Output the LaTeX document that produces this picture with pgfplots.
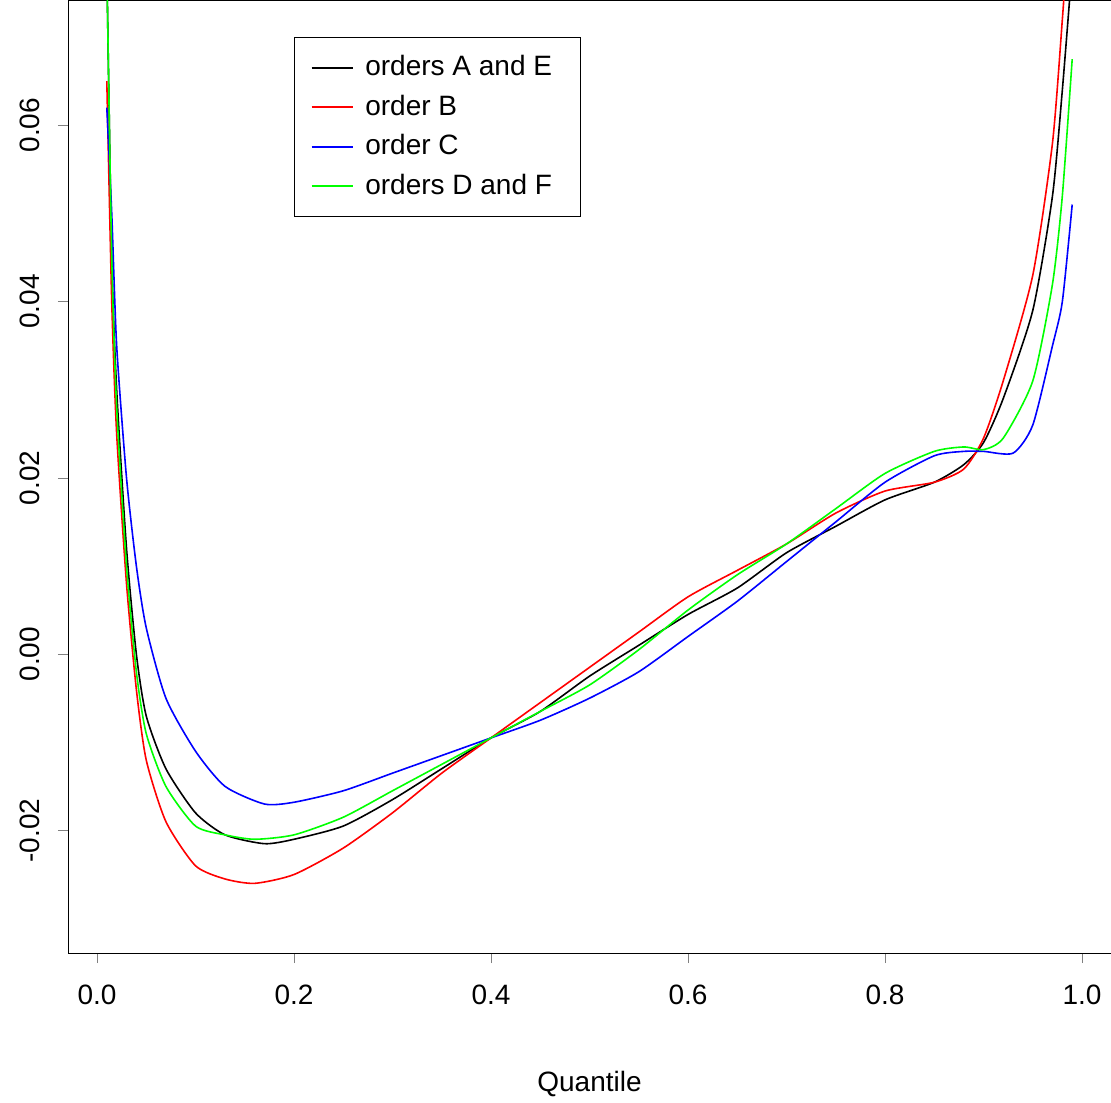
\documentclass[border=0pt]{standalone}
\usepackage{pgfplots}
\pgfplotsset{compat=1.18}
\usepackage{fontspec}
\setmainfont{Liberation Sans}
\begin{document}
\fontsize{14}{17}\selectfont
\begin{tikzpicture}
\begin{axis}[scale only axis, width=521.5pt, height=476.5pt, at={(0,0)}, anchor=south west,
xmin=-0.0294, xmax=1.0294, ymin=-0.0339, ymax=0.0742,
xtick={0,0.2,0.4,0.6,0.8,1}, ytick={-0.02,0,0.02,0.04,0.06},
xticklabel style={/pgf/number format/.cd,fixed,fixed zerofill,precision=1},
yticklabel style={rotate=90,anchor=south,/pgf/number format/.cd,fixed,fixed zerofill,precision=2},
/pgf/number format/assume math mode=true,
tick align=outside, tick pos=left, major tick length=5pt,
xticklabel shift=6pt, yticklabel shift=4pt,
scaled y ticks=false, clip=true,
xlabel={Quantile}, xlabel style={yshift=-24pt},
legend style={at={(0.217,0.961)}, anchor=north west, draw=black, inner xsep=8pt, inner ysep=7pt, row sep=3.5pt, font=\fontsize{14}{17}\selectfont,
  nodes={inner xsep=6pt}},
legend cell align=left, legend image post style={xscale=1.2},
every axis plot/.append style={line width=0.8pt, smooth, tension=0.4}]
\addplot[black] coordinates {(0.01,0.078)(0.015,0.045)(0.02,0.03)(0.03,0.012)(0.04,0.0)(0.05,-0.007)(0.07,-0.013)(0.1,-0.018)(0.13,-0.0205)(0.17,-0.0215)(0.2,-0.021)(0.25,-0.0195)(0.3,-0.0165)(0.35,-0.013)(0.4,-0.0095)(0.45,-0.0065)(0.5,-0.0025)(0.55,0.001)(0.6,0.0045)(0.65,0.0075)(0.7,0.0115)(0.75,0.0145)(0.8,0.0175)(0.85,0.0195)(0.88,0.0215)(0.9,0.024)(0.92,0.029)(0.95,0.039)(0.97,0.052)(0.98,0.064)(0.99,0.078)};
\addlegendentry{orders A and E}
\addplot[red] coordinates {(0.01,0.065)(0.015,0.04)(0.02,0.025)(0.03,0.008)(0.04,-0.004)(0.05,-0.012)(0.07,-0.019)(0.1,-0.024)(0.13,-0.0255)(0.16,-0.026)(0.2,-0.025)(0.25,-0.022)(0.3,-0.018)(0.35,-0.0135)(0.4,-0.0095)(0.45,-0.0055)(0.5,-0.0015)(0.55,0.0025)(0.6,0.0065)(0.65,0.0095)(0.7,0.0125)(0.75,0.016)(0.8,0.0185)(0.85,0.0195)(0.88,0.021)(0.9,0.0245)(0.92,0.031)(0.95,0.043)(0.97,0.058)(0.98,0.072)(0.985,0.08)};
\addlegendentry{order B}
\addplot[blue] coordinates {(0.01,0.062)(0.015,0.05)(0.02,0.035)(0.03,0.02)(0.04,0.01)(0.05,0.003)(0.07,-0.005)(0.1,-0.011)(0.13,-0.015)(0.17,-0.017)(0.2,-0.0168)(0.25,-0.0155)(0.3,-0.0135)(0.35,-0.0115)(0.4,-0.0095)(0.45,-0.0075)(0.5,-0.005)(0.55,-0.002)(0.6,0.002)(0.65,0.006)(0.7,0.0105)(0.75,0.015)(0.8,0.0195)(0.85,0.0225)(0.88,0.023)(0.9,0.023)(0.93,0.0228)(0.95,0.026)(0.97,0.035)(0.98,0.04)(0.99,0.051)};
\addlegendentry{order C}
\addplot[green] coordinates {(0.01,0.078)(0.015,0.045)(0.02,0.028)(0.03,0.01)(0.04,-0.002)(0.05,-0.009)(0.07,-0.015)(0.1,-0.0195)(0.13,-0.0205)(0.16,-0.021)(0.2,-0.0205)(0.25,-0.0185)(0.3,-0.0155)(0.35,-0.0125)(0.4,-0.0095)(0.45,-0.0065)(0.5,-0.0035)(0.55,0.0005)(0.6,0.005)(0.65,0.009)(0.7,0.0125)(0.75,0.0165)(0.8,0.0205)(0.85,0.023)(0.88,0.0235)(0.9,0.0232)(0.92,0.0245)(0.95,0.031)(0.97,0.042)(0.98,0.052)(0.99,0.0675)};
\addlegendentry{orders D and F}
\end{axis}
\pgfresetboundingbox
\useasboundingbox (-34pt,-74.5pt) rectangle (521.5pt,476.5pt);
\end{tikzpicture}
\end{document}
